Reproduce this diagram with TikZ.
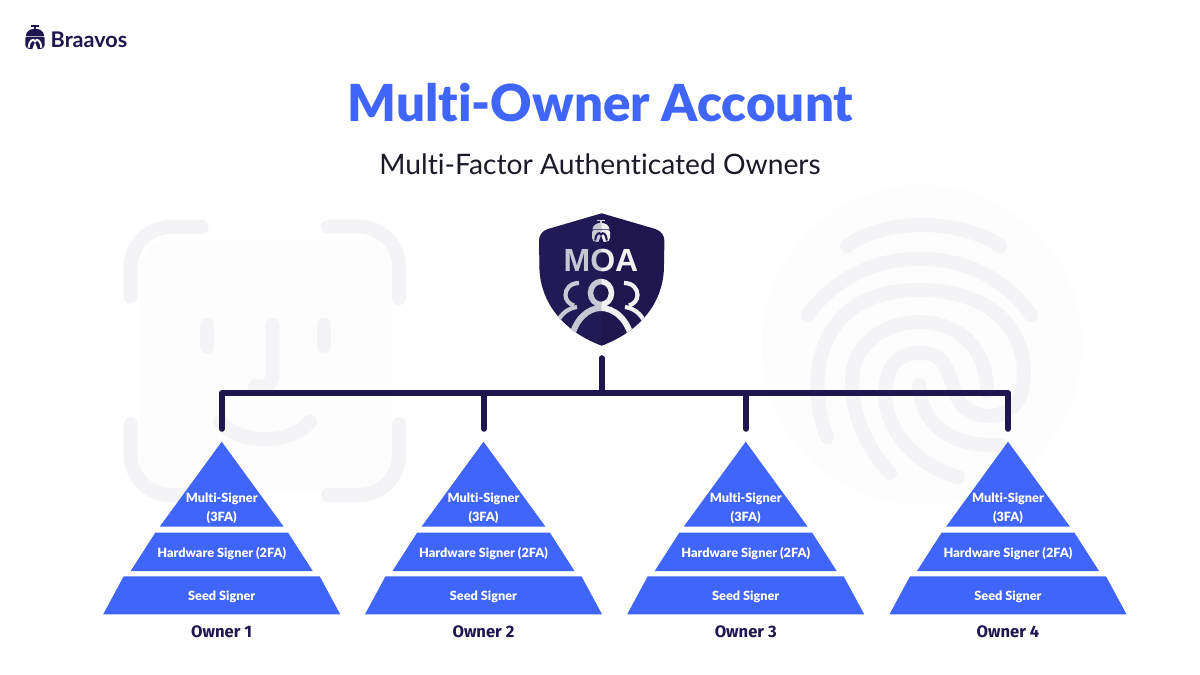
\documentclass[tikz,border=0pt]{standalone}
\usepackage{fontspec}
\setmainfont{Lato}[Ligatures=NoCommon]
\newfontfamily\heavyfont{Lato Black}[Ligatures=NoCommon]
\newfontfamily\ownerfont{Fira Sans}
\newfontfamily\moafont{Liberation Sans}
\usepackage{tikz}

\definecolor{navy}{HTML}{1F1650}
\definecolor{tierblue}{HTML}{4065FB}
\definecolor{iconback}{HTML}{F4F4F7}
\definecolor{glow}{HTML}{FDFDFE}
\definecolor{peoplelight}{HTML}{F0F0F0}
\definecolor{subink}{HTML}{1A1A28}

\tikzset{
  wire/.style={draw=navy, line width=6pt, line cap=round, line join=round},
  port/.style={inner sep=0pt, minimum size=0pt},
  tier/.style={fill=tierblue},
  tiertext/.style={text=white, font=\heavyfont\fontsize{12.7}{14}\selectfont, inner sep=0pt},
  ownertext/.style={text=navy, font=\ownerfont\bfseries\fontsize{16.6}{18}\selectfont, inner sep=0pt},
  backline/.style={draw=iconback, line width=14pt, line cap=round, line join=round},
  person/.style={draw=peoplelight, line width=#1}
}

\newcommand{\helmet}[5]{
\begin{scope}[shift={(#1,#2)}, scale=#3]
\fill[#4] (-4,-12.5) rectangle (4,-11);
\fill[#4] (-0.9,-11) rectangle (0.9,-8.5);
\fill[#4] (-9.5,-1.8) .. controls (-9,-6.5) and (-5,-9) .. (0,-9) .. controls (5,-9) and (9,-6.5) .. (9.5,-1.8) -- cycle;
\fill[#4, rounded corners=2pt] (-10,-1) -- (10,-1) -- (10,10) -- (7,12) -- (-7,12) -- (-10,10) -- cycle;
\draw[#5, line width=2pt] (-6.5,10.5) .. controls (-6,3) and (-2,0.5) .. (0,4) .. controls (2,0.5) and (6,3) .. (6.5,10.5);
\fill[#5] (-3,12.5) -- (0,5) -- (3,12.5) -- cycle;
\end{scope}
}

\begin{document}
\begin{tikzpicture}[x=1pt, y=-1pt]
\useasboundingbox (0,0) rectangle (1200,675);
\fill[white] (0,0) rectangle (1200,675);

% face and finger behind
\fill[glow, rounded corners=30pt] (140,240) rectangle (392,490);
\fill[glow] (922,345) circle (160);

\draw[backline] (130.7,296.7) -- (130.7,267) arc (180:270:40) -- (201.7,226.7);
\draw[backline] (328,226.7) -- (359,226.7) arc (-90:0:40) -- (399,298);
\draw[backline] (130.7,424) -- (130.7,455) arc (180:90:40) -- (201.7,495);
\draw[backline] (328,495) -- (359,495) arc (90:0:40) -- (399,424);
\draw[backline] (207.3,325) -- (207.3,346.7);
\draw[backline] (324.3,325) -- (324.3,346.7);
\draw[backline] (272.7,325) -- (272.7,375) .. controls (272.7,383) and (268,386.7) .. (255,386.7);
\draw[backline] (220,421.7) .. controls (240,445) and (290,445) .. (310,421.7);

\draw[backline] (847,246) .. controls (885,218) and (960,218) .. (1000,246);
\draw[backline] (808,315) .. controls (860,240) and (980,240) .. (1031,315);
\draw[backline] (827,437) .. controls (805,380) and (815,290) .. (919,290) .. controls (1000,290) and (1030,340) .. (1023,385) .. controls (1018,425) and (965,425) .. (955,392) .. controls (945,360) and (940,353) .. (919,353) .. controls (895,353) and (885,370) .. (885,397) .. controls (887,430) and (915,465) .. (958,477);
\draw[backline] (890,473) .. controls (865,445) and (852,415) .. (852,380) .. controls (852,345) and (885,322) .. (919,322) .. controls (955,322) and (987,345) .. (987,392);
\draw[backline] (919,385) .. controls (922,425) and (950,447) .. (1000,445);

% logo
\helmet{35}{37.5}{0.97}{navy}{white}
\node[text=navy, font=\bfseries\fontsize{21.6}{24}\selectfont, inner sep=0pt] (logo) at (89,40) {Braavos};

% headings
\node[text=tierblue, font=\heavyfont\fontsize{51}{56}\selectfont, inner sep=0pt] (title) at (600.5,103) {Multi-Owner Account};
\node[text=subink, font=\fontsize{28.2}{31}\selectfont, inner sep=0pt] (subtitle) at (600,164.5) {Multi-Factor Authenticated Owners};

% shield
\fill[navy] (601.7,213.3) -- (548,229) .. controls (542,231) and (539,235) .. (539,241) -- (539.5,270) .. controls (541,300) and (560,330) .. (601.7,345.7) .. controls (643.4,330) and (662.4,300) .. (663.9,270) -- (664.4,241) .. controls (664.4,235) and (661,231) .. (655.4,229) -- cycle;
\helmet{601}{231}{0.9}{peoplelight}{navy}
\node[text=peoplelight, font=\moafont\bfseries\fontsize{32}{34}\selectfont, inner sep=0pt] (moa) at (601,260.7) {MOA};
\begin{scope}
\clip (539.5,270) .. controls (541,300) and (560,330) .. (601.7,345.7) .. controls (643.4,330) and (662.4,300) .. (663.9,270) -- cycle;
\draw[person=5.5pt] (601,293) ellipse (10.5 and 11.5);
\draw[person=6pt] (571,340) .. controls (575,319) and (588,308) .. (601,308) .. controls (614,308) and (628,319) .. (632,340);
\draw[person=4.2pt] (579,283) .. controls (570,283) and (565.5,289) .. (565.5,295) .. controls (565.5,300) and (569,304) .. (574,305.5);
\draw[person=4.2pt] (624,283) .. controls (633,283) and (637.5,289) .. (637.5,295) .. controls (637.5,300) and (634,304) .. (629,305.5);
\draw[person=4.2pt] (556,325) .. controls (561,312) and (570,308) .. (577,307);
\draw[person=4.2pt] (646,325) .. controls (641,312) and (632,308) .. (625,307);
\end{scope}
\fill[color={rgb,255:red,44;green,44;blue,100}, opacity=.2] (601.7,213.3) -- (548,229) .. controls (542,231) and (539,235) .. (539,241) -- (539.5,270) .. controls (541,300) and (560,330) .. (601.7,345.7) -- cycle;

% connectors
\node[port] (hub) at (601.5,358) {};
\node[port] (rail) at (601.5,393) {};
\node[port] (top1) at (222,429) {};
\node[port] (top2) at (484,429) {};
\node[port] (top3) at (746,429) {};
\node[port] (top4) at (1008,429) {};
\draw[wire] (hub) -- (rail);
\draw[wire] (top1) -- (top1 |- rail) -- (top4 |- rail) -- (top4);
\draw[wire] (top2 |- rail) -- (top2);
\draw[wire] (top3 |- rail) -- (top3);

% owner 1
\fill[tier] (221.7,441.7) -- (283.7,526.7) -- (159.7,526.7) -- cycle;
\fill[tier] (155.3,532.7) -- (288.1,532.7) -- (312.7,571) -- (130.7,571) -- cycle;
\fill[tier] (123.7,576.3) -- (319.7,576.3) -- (340.2,614.3) -- (103.2,614.3) -- cycle;
\node[tiertext] (ms1) at (221.7,499.2) {Multi-Signer};
\node[tiertext] (fa1) at (221.7,517.5) {(3FA)};
\node[tiertext] (hw1) at (221.7,553.5) {Hardware Signer (2FA)};
\node[tiertext] (ss1) at (221.7,597) {Seed Signer};
\node[ownertext] (own1) at (221.7,631.5) {Owner 1};

% owner 2
\fill[tier] (483.5,441.7) -- (545.5,526.7) -- (421.5,526.7) -- cycle;
\fill[tier] (417.1,532.7) -- (549.9,532.7) -- (574.5,571) -- (392.5,571) -- cycle;
\fill[tier] (385.5,576.3) -- (581.5,576.3) -- (602,614.3) -- (365,614.3) -- cycle;
\node[tiertext] (ms2) at (483.5,499.2) {Multi-Signer};
\node[tiertext] (fa2) at (483.5,517.5) {(3FA)};
\node[tiertext] (hw2) at (483.5,553.5) {Hardware Signer (2FA)};
\node[tiertext] (ss2) at (483.5,597) {Seed Signer};
\node[ownertext] (own2) at (483.5,631.5) {Owner 2};

% owner 3
\fill[tier] (745.7,441.7) -- (807.7,526.7) -- (683.7,526.7) -- cycle;
\fill[tier] (679.3,532.7) -- (812.1,532.7) -- (836.7,571) -- (654.7,571) -- cycle;
\fill[tier] (647.7,576.3) -- (843.7,576.3) -- (864.2,614.3) -- (627.2,614.3) -- cycle;
\node[tiertext] (ms3) at (745.7,499.2) {Multi-Signer};
\node[tiertext] (fa3) at (745.7,517.5) {(3FA)};
\node[tiertext] (hw3) at (745.7,553.5) {Hardware Signer (2FA)};
\node[tiertext] (ss3) at (745.7,597) {Seed Signer};
\node[ownertext] (own3) at (745.7,631.5) {Owner 3};

% owner 4
\fill[tier] (1008,441.7) -- (1070,526.7) -- (946,526.7) -- cycle;
\fill[tier] (941.6,532.7) -- (1074.4,532.7) -- (1099,571) -- (917,571) -- cycle;
\fill[tier] (910,576.3) -- (1106,576.3) -- (1126.5,614.3) -- (889.5,614.3) -- cycle;
\node[tiertext] (ms4) at (1008,499.2) {Multi-Signer};
\node[tiertext] (fa4) at (1008,517.5) {(3FA)};
\node[tiertext] (hw4) at (1008,553.5) {Hardware Signer (2FA)};
\node[tiertext] (ss4) at (1008,597) {Seed Signer};
\node[ownertext] (own4) at (1008,631.5) {Owner 4};
\end{tikzpicture}
\end{document}
